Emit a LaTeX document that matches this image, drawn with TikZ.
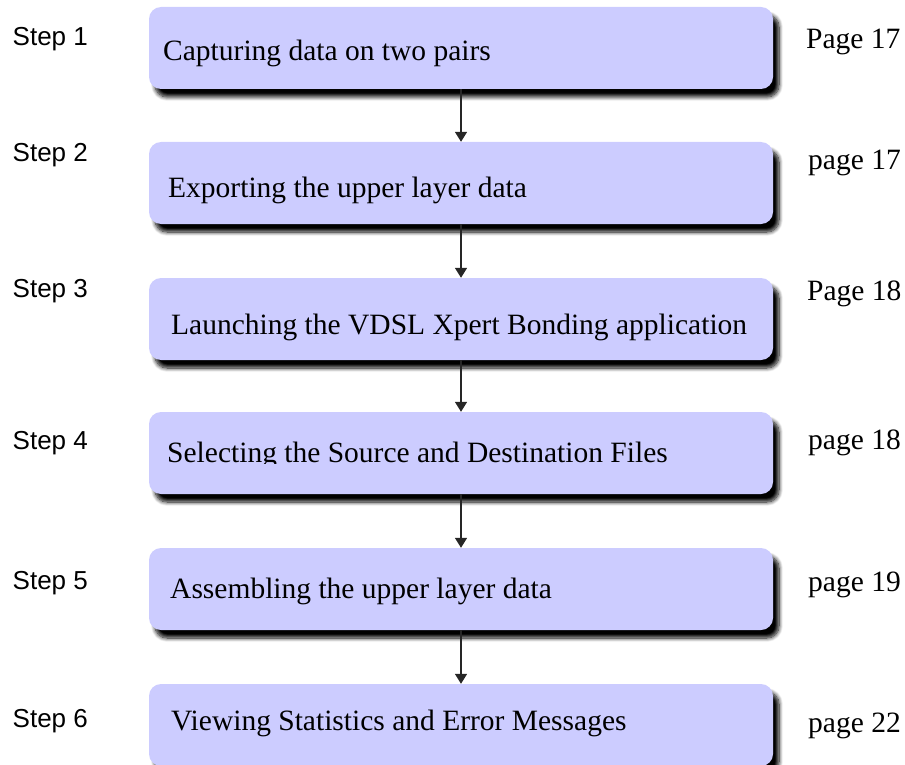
\documentclass[tikz,border=0pt]{standalone}
\usepackage{fontspec}
\setmainfont{Liberation Serif}
\newfontfamily\stepfont{Liberation Sans}
\usetikzlibrary{shadows.blur,arrows.meta}
\definecolor{boxfill}{RGB}{204,204,255}
\tikzset{
  stepbox/.style={fill=boxfill, rounded corners=12pt, minimum width=624pt,
    minimum height=82pt, inner sep=0pt,
    blur shadow={shadow xshift=6pt, shadow yshift=-8pt, shadow blur radius=4pt,
      shadow opacity=100, shadow blur steps=8}},
  boxtext/.style={anchor=base west, inner sep=0pt, font=\fontsize{29.5}{30}\selectfont},
  steplabel/.style={anchor=base west, inner sep=0pt, font=\stepfont\fontsize{26}{26}\selectfont},
  pagelabel/.style={anchor=base west, inner sep=0pt, font=\fontsize{29.5}{30}\selectfont},
  flow/.style={draw=black!85, line width=1.6pt, -{Triangle[width=12pt,length=10pt]}}
}
\begin{document}
\begin{tikzpicture}[x=1pt,y=-1pt]
\useasboundingbox (0,0) rectangle (905,765);

% process boxes
\node[stepbox] (b1) at (461,48) {};
\node[stepbox] (b2) at (461,183) {};
\node[stepbox] (b3) at (461,319) {};
\node[stepbox] (b4) at (461,453) {};
\node[stepbox] (b5) at (461,589) {};
\node[stepbox] (b6) at (461,725) {};

% connectors
\draw[flow] (b1.south) -- (b2.north);
\draw[flow] (b2.south) -- (b3.north);
\draw[flow] (b3.south) -- (b4.north);
\draw[flow] (b4.south) -- (b5.north);
\draw[flow] (b5.south) -- (b6.north);

% box captions
\node[boxtext] (t1) at (163,61) {Capturing data on two pairs};
\node[boxtext] (t2) at (168,197) {Exporting the upper layer data};
\node[boxtext] (t3) at (171,334) {Launching the VDSL Xpert Bonding application};
\begin{scope}
  \clip (150,400) rectangle (770,463);
  \node[boxtext] (t4) at (167,462) {Selecting the Source and Destination Files};
\end{scope}
\node[boxtext] (t5) at (170,598) {Assembling the upper layer data};
\node[boxtext] (t6) at (171,730) {Viewing Statistics and Error Messages};

% step numbers
\node[steplabel] (s1) at (12.5,46) {Step 1};
\node[steplabel] (s2) at (12.5,161) {Step 2};
\node[steplabel] (s3) at (12.5,297) {Step 3};
\node[steplabel] (s4) at (12.5,449) {Step 4};
\node[steplabel] (s5) at (12.5,589) {Step 5};
\node[steplabel] (s6) at (12.5,727) {Step 6};

% page references
\node[pagelabel] (p1) at (806,49) {Page 17};
\node[pagelabel] (p2) at (808,169) {page 17};
\node[pagelabel] (p3) at (807,300) {Page 18};
\node[pagelabel] (p4) at (808,449) {page 18};
\node[pagelabel] (p5) at (808,591) {page 19};
\node[pagelabel] (p6) at (808,732) {page 22};
\end{tikzpicture}
\end{document}
